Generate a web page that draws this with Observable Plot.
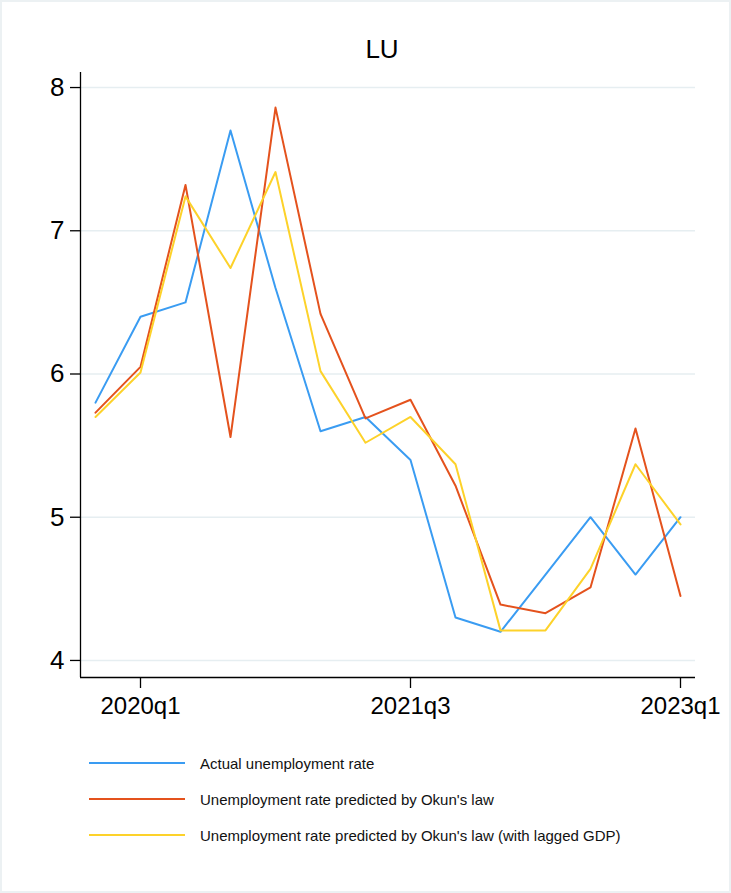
<!DOCTYPE html>
<html>
<head>
<meta charset="utf-8">
<script src="https://cdn.jsdelivr.net/npm/d3@7"></script>
<script src="https://cdn.jsdelivr.net/npm/@observablehq/plot@0.6"></script>
<style>
  html, body { margin: 0; padding: 0; background: #fff; }
  #wrap { width: 731px; height: 893px; box-sizing: border-box; border: 2px solid #ecf1f3; font-family: "Liberation Sans", Arial, sans-serif; overflow: hidden; }
  #title { height: 58px; box-sizing: border-box; padding-top: 37px; padding-left: 33px; line-height: 21px; font-size: 26px; text-align: center; color: #000; }
  #chart svg { display: block; }
  #legend { padding-top: 15px; }
  .row { height: 36px; display: flex; align-items: center; font-size: 15px; color: #111; }
  .sw { margin-left: 87px; width: 96px; height: 2px; margin-right: 15px; }
</style>
</head>
<body>
<div id="wrap">
  <div id="title">LU</div>
  <div id="chart"></div>
  <div id="legend"></div>
</div>
<script>
const quarters = ["2019q4","2020q1","2020q2","2020q3","2020q4","2021q1","2021q2","2021q3","2021q4","2022q1","2022q2","2022q3","2022q4","2023q1"];
const actual   = [5.80, 6.40, 6.50, 7.70, 6.60, 5.60, 5.70, 5.40, 4.30, 4.20, 4.60, 5.00, 4.60, 5.00];
const okun     = [5.73, 6.05, 7.32, 5.56, 7.86, 6.42, 5.69, 5.82, 5.22, 4.39, 4.33, 4.51, 5.62, 4.45];
const okunLag  = [5.70, 6.01, 7.24, 6.74, 7.41, 6.02, 5.52, 5.70, 5.37, 4.21, 4.21, 4.64, 5.37, 4.95];
const seriesNames = ["Actual unemployment rate", "Unemployment rate predicted by Okun's law", "Unemployment rate predicted by Okun's law (with lagged GDP)"];
const colors = ["#3a9cf2", "#e4521d", "#fdd22a"];
const yTicks = [4, 5, 6, 7, 8];
const xTickLabels = ["2020q1", "2021q3", "2023q1"];

const allSeries = [actual, okun, okunLag];
const xTicks = xTickLabels.map(l => quarters.indexOf(l));
const xDomain = [-1/3, quarters.length - 1 + 1/3];
const yDomain = [3.881, 8.105];
const font = "Liberation Sans, Arial, sans-serif";

const lineMarks = allSeries.map((vals, k) =>
  Plot.line(vals.map((v, i) => ({i, v})), {x: "i", y: "v", stroke: colors[k], strokeWidth: 2})
);

const chart = Plot.plot({
  width: 727,
  height: 670,
  marginLeft: 78,
  marginRight: 34,
  marginTop: 12,
  marginBottom: 53,
  style: {fontFamily: font, background: "transparent", color: "#000"},
  x: {domain: xDomain},
  y: {domain: yDomain},
  marks: [
    Plot.gridY(yTicks, {stroke: "#e6eef1", strokeOpacity: 1, strokeWidth: 1.5}),
    ...lineMarks,
    Plot.ruleX([xDomain[0]], {stroke: "#000", strokeWidth: 1.3}),
    Plot.ruleY([yDomain[0]], {stroke: "#000", strokeWidth: 1.3}),
    Plot.axisY(yTicks, {tickSize: 10, tickPadding: 6, fontSize: 26, stroke: "#000", strokeWidth: 1.3, fill: "#000", label: null, tickFormat: d => String(d)}),
    Plot.axisX(xTicks, {tickSize: 11, tickPadding: 8, fontSize: 24, stroke: "#000", strokeWidth: 1.3, fill: "#000", label: null, tickFormat: i => quarters[i]})
  ]
});
document.getElementById("chart").appendChild(chart);

const legend = document.getElementById("legend");
seriesNames.forEach((name, k) => {
  const row = document.createElement("div");
  row.className = "row";
  const sw = document.createElement("div");
  sw.className = "sw";
  sw.style.background = colors[k];
  const t = document.createElement("span");
  t.textContent = name;
  row.appendChild(sw);
  row.appendChild(t);
  legend.appendChild(row);
});
</script>
</body>
</html>
